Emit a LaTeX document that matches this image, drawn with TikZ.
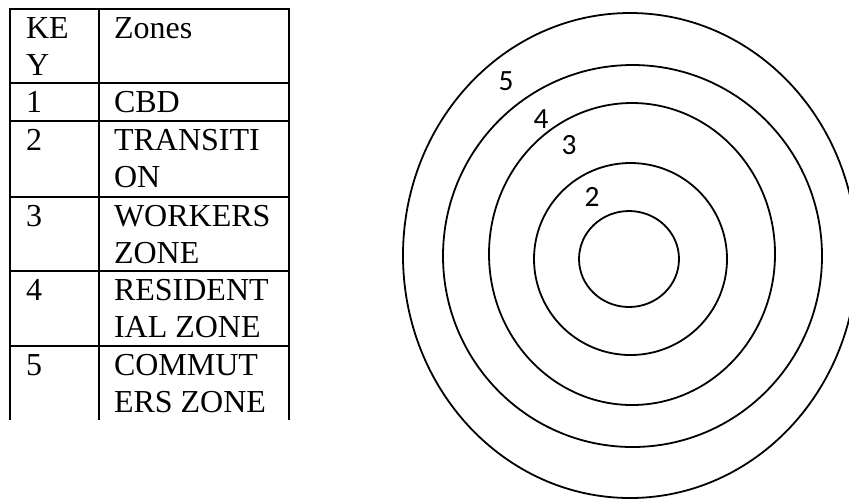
\documentclass[tikz,border=0pt]{standalone}
\usepackage{fontspec}
\setmainfont{Liberation Serif}
\newfontfamily\labelfont{Carlito}
\usetikzlibrary{positioning}

\begin{document}
\begin{tikzpicture}[x=0.5pt,y=-0.5pt,line width=1pt,
  cell/.style={anchor=base west,inner sep=0pt,align=left,font=\fontsize{16}{18.5}\selectfont},
  ring/.style={line width=0.9pt},
  zone/.style={inner sep=0pt,font=\labelfont\fontsize{14.7}{17}\selectfont}]
\useasboundingbox (0,0) rectangle (849,500);
\clip (0,0) rectangle (849,500);
% key table
\draw (10,420)--(10,9)--(289,9)--(289,420);
\draw (99,9)--(99,420);
\foreach \y in {83,121,197,271,346}{\draw (10,\y)--(289,\y);}
% base anchor sits on the last line of a wrapped cell
\node[cell] (key) at (25,75) {KE\\Y};
\node[cell] (zones) at (113,38) {Zones};
\foreach \n/\txt/\y/\yy in {1/CBD/112/112,2/{TRANSITI\\ON}/150/187,3/{WORKERS\\ZONE}/226/263,4/{RESIDENT\\IAL ZONE}/300/337,5/{COMMUT\\ERS ZONE}/375/412}{
  \node[cell] (k\n) at (25,\y) {\n};
  \node[cell] (z\n) at (113,\yy) {\txt};
}
% concentric zones
\foreach \cx/\cy/\rx/\ry in {629/259/50/48,630.5/259/96.5/96,632/254/143/151,632.5/256/189.5/191,630/255.5/227/242.5}{
  \draw[ring] (\cx,\cy) ellipse ({\rx} and {\ry});
}
\node[zone] (l5) at (506,81) {5};
\node[zone] (l4) at (541,119) {4};
\node[zone] (l3) at (569,145) {3};
\node[zone] (l2) at (592,197) {2};
\end{tikzpicture}
\end{document}
